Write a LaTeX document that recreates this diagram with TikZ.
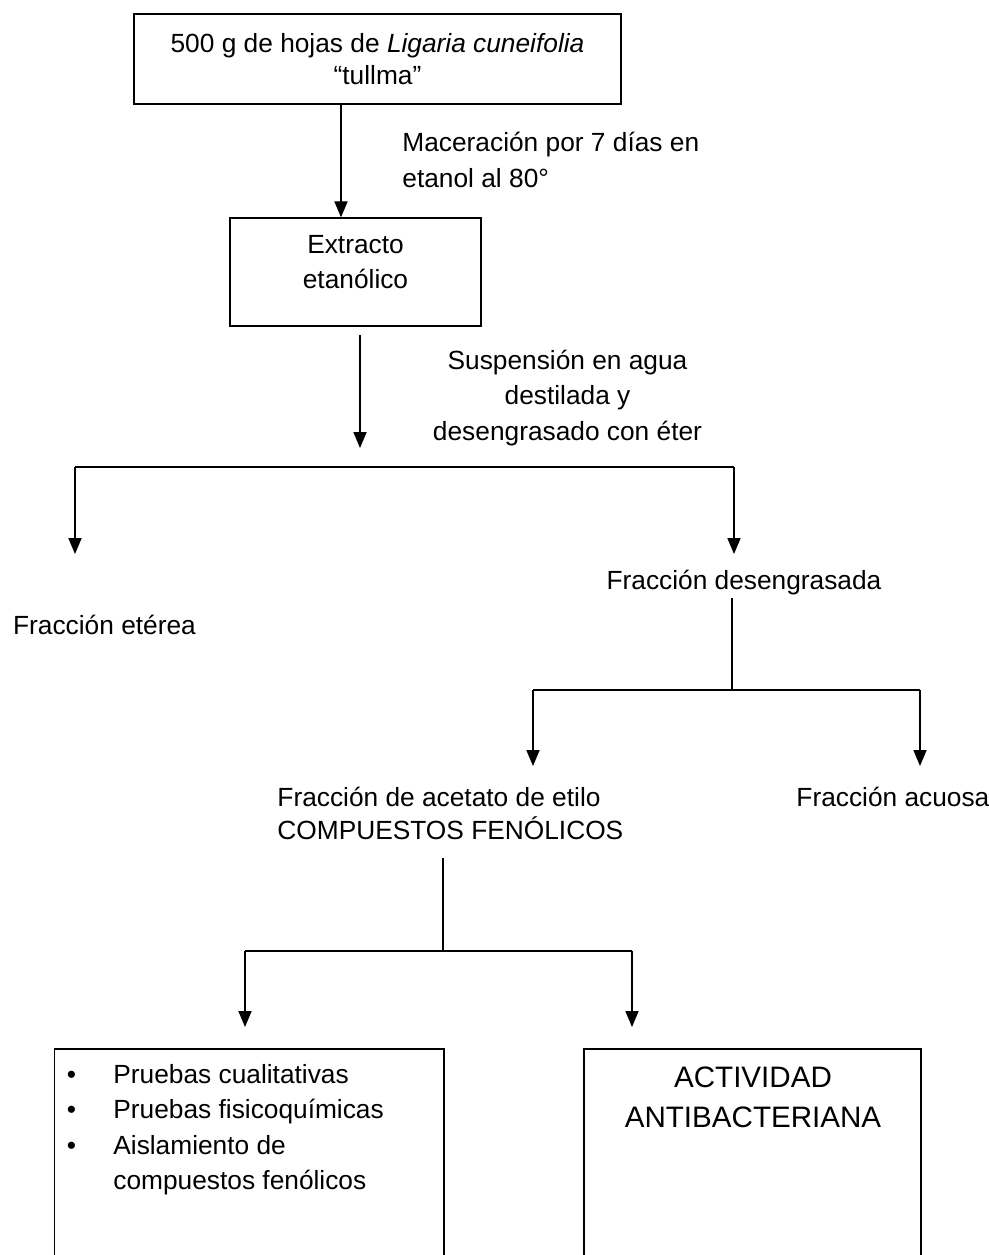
\documentclass[tikz,border=0pt]{standalone}
\usepackage{fontspec}
\setmainfont{Liberation Sans}
\usetikzlibrary{arrows.meta, positioning}

\begin{document}
\begin{tikzpicture}[x=0.4563pt, y=-0.4563pt,
    font=\fontsize{12pt}{16pt}\selectfont,
    box/.style={draw, line width=0.6pt, inner sep=0pt},
    txt/.style={inner sep=0pt},
    link/.style={line width=0.6pt},
    bar/.style={line width=0.9pt},
    arr/.style={line width=0.6pt, -{Triangle[length=7.3pt, width=6pt]}}]

    \useasboundingbox (0,0) rectangle (989,1255);

    %% Boxes
    \node[box, minimum width=222.2pt, minimum height=41.1pt, align=center,
          font=\fontsize{12pt}{14.6pt}\selectfont] (hojas) at (377.5,59)
          {500 g de hojas de \textit{Ligaria cuneifolia}\\“tullma”};

    \node[box, minimum width=114.5pt, minimum height=49.3pt] (extbox) at (355.5,272) {};
    \node[txt, align=center] (extracto) at (355.5,262.5) {Extracto\\etanólico};

    %% Step labels
    \node[txt, anchor=west, align=left, font=\fontsize{12pt}{16.4pt}\selectfont] (macer)
          at (402,160) {Maceración por 7 días en\\etanol al 80°};
    \node[txt, align=center] (susp) at (567.5,398)
          {Suspensión en agua\\destilada y\\desengrasado con éter};

    %% Fractions
    \node[txt, anchor=west] (eterea) at (12.7,625) {Fracción etérea};
    \node[txt] (desen) at (744,583) {Fracción desengrasada};
    \node[txt, anchor=west, align=left, font=\fontsize{12pt}{15pt}\selectfont] (acetato)
          at (277,813.5) {Fracción de acetato de etilo\\COMPUESTOS FENÓLICOS};
    \node[txt, anchor=west] (acuosa) at (796,797) {Fracción acuosa};

    %% Branch points
    \coordinate (a1) at (341,0);
    \coordinate (s1) at (360,448);
    \coordinate (b1l) at (75,467);
    \coordinate (b1r) at (734,467);
    \coordinate (b2) at (732,690);
    \coordinate (b2l) at (533,690);
    \coordinate (b2r) at (920,690);
    \coordinate (b3) at (443,951);
    \coordinate (b3l) at (245,951);
    \coordinate (b3r) at (632,951);

    %% Arrows
    \draw[arr] (hojas.south -| a1) -- (extbox.north -| a1);
    \draw[arr] ([yshift=-4pt]extbox.south -| s1) -- (s1);

    \draw[bar] (b1l) -- (b1r);
    \draw[arr] (b1l) -- ++(0,87);
    \draw[arr] (b1r) -- ++(0,87);

    \draw[link] ([yshift=-1pt]desen.south -| b2) -- (b2);
    \draw[bar] (b2l) -- (b2r);
    \draw[arr] (b2l) -- ++(0,76);
    \draw[arr] (b2r) -- ++(0,76);

    \draw[link] ([yshift=-8pt]acetato.south -| b3) -- (b3);
    \draw[bar] (b3l) -- (b3r);
    \draw[arr] (b3l) -- ++(0,76);
    \draw[arr] (b3r) -- ++(0,76);

    %% Bottom boxes (open at the foot of the page)
    \draw[link] (54.5,1255) |- (444,1049) -- (444,1255);
    \draw[link] (584,1255) |- (921,1049) -- (921,1255);

    \node[txt, anchor=west] (pruebas) at (66.5,1129.5)
          {\begin{tabular}{@{}l@{\hspace{17pt}}l@{}}
           • & Pruebas cualitativas\\
           • & Pruebas fisicoquímicas\\
           • & Aislamiento de\\
             & compuestos fenólicos
           \end{tabular}};
    \node[txt, align=center, font=\fontsize{13.5pt}{18.3pt}\selectfont] (activ)
          at (753,1097) {ACTIVIDAD\\ANTIBACTERIANA};

\end{tikzpicture}
\end{document}
